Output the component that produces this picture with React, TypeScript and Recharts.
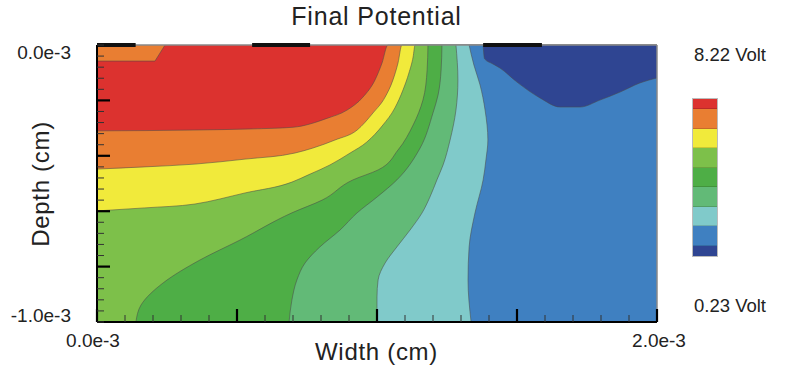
import { Area, AreaChart, ReferenceLine, XAxis, YAxis } from 'recharts';

// plot area of the reference: x 97..657, y 45..322 (units of 1e-3 cm)
const W = 800;
const H = 369;
const margin = { top: 45, right: 143, bottom: 47, left: 97 };
// the axis layer keeps 1px for each visible axis
const axisMargin = { top: 45, right: 143, bottom: 46, left: 96 };

const levelColors = ['#dc322f', '#e97e32', '#f1ea3b', '#7dc04a', '#4eae46', '#62ba77', '#80caca', '#3f80c1', '#2f4592'];
const levelLabels = ['8.22 Volt', '0.23 Volt'];

const xTicks = [0, 0.1, 0.2, 0.3, 0.4, 0.5, 0.6, 0.7, 0.8, 0.9, 1, 1.1, 1.2, 1.3, 1.4, 1.5, 1.6, 1.7, 1.8, 1.9, 2];
const yTicks = [
  0, -0.04, -0.08, -0.12, -0.16, -0.2, -0.24, -0.28, -0.32, -0.36, -0.4, -0.44, -0.48, -0.52, -0.56, -0.6, -0.64,
  -0.68, -0.72, -0.76, -0.8, -0.84, -0.88, -0.92, -0.96, -1,
];
const xTickLabels = [
  { v: 0, text: '0.0e-3' },
  { v: 2, text: '2.0e-3' },
];
const yTickLabels = [
  { v: 0, text: '0.0e-3' },
  { v: -1, text: '-1.0e-3' },
];

// electrodes on the surface (width ranges)
const electrodes = [
  [0, 0.138],
  [0.554, 0.761],
  [1.379, 1.589],
];

// contour lines given as depth over width (filled downwards / upwards)
const fullPlot = [
  { x: 0, y: 0 },
  { x: 2, y: 0 },
];
const orangeCorner = [
  { x: 0, y: -0.058 },
  { x: 0.207, y: -0.058 },
  { x: 0.243, y: 0 },
];
const redOrange = [
  { x: 0, y: -0.31 },
  { x: 0.35, y: -0.307 },
  { x: 0.55, y: -0.303 },
  { x: 0.7, y: -0.297 },
  { x: 0.821, y: -0.265 },
  { x: 0.893, y: -0.235 },
  { x: 0.95, y: -0.188 },
  { x: 0.993, y: -0.126 },
  { x: 1.018, y: -0.065 },
  { x: 1.039, y: 0 },
  { x: 2, y: 0 },
];
const orangeYellow = [
  { x: 0, y: -0.448 },
  { x: 0.171, y: -0.44 },
  { x: 0.35, y: -0.43 },
  { x: 0.529, y: -0.412 },
  { x: 0.707, y: -0.39 },
  { x: 0.771, y: -0.372 },
  { x: 0.85, y: -0.343 },
  { x: 0.929, y: -0.307 },
  { x: 0.986, y: -0.245 },
  { x: 1.029, y: -0.188 },
  { x: 1.057, y: -0.126 },
  { x: 1.075, y: -0.065 },
  { x: 1.089, y: 0 },
  { x: 2, y: 0 },
];
const yellowLightGreen = [
  { x: 0, y: -0.599 },
  { x: 0.171, y: -0.588 },
  { x: 0.35, y: -0.574 },
  { x: 0.529, y: -0.534 },
  { x: 0.696, y: -0.495 },
  { x: 0.761, y: -0.466 },
  { x: 0.832, y: -0.433 },
  { x: 0.904, y: -0.39 },
  { x: 0.964, y: -0.35 },
  { x: 1.021, y: -0.289 },
  { x: 1.064, y: -0.227 },
  { x: 1.093, y: -0.162 },
  { x: 1.114, y: -0.101 },
  { x: 1.129, y: -0.043 },
  { x: 1.136, y: 0 },
  { x: 2, y: 0 },
];

// contour lines given as width over depth (filled to the right)
const lightGreenGreen = [
  { d: -1, x: 0.139 },
  { d: -0.939, x: 0.157 },
  { d: -0.859, x: 0.236 },
  { d: -0.776, x: 0.368 },
  { d: -0.704, x: 0.511 },
  { d: -0.606, x: 0.696 },
  { d: -0.56, x: 0.804 },
  { d: -0.487, x: 0.914 },
  { d: -0.451, x: 1.004 },
  { d: -0.379, x: 1.075 },
  { d: -0.289, x: 1.129 },
  { d: -0.199, x: 1.164 },
  { d: -0.09, x: 1.179 },
  { d: 0, x: 1.182 },
];
const greenMidGreen = [
  { d: -1, x: 0.686 },
  { d: -0.921, x: 0.696 },
  { d: -0.848, x: 0.714 },
  { d: -0.787, x: 0.743 },
  { d: -0.729, x: 0.796 },
  { d: -0.668, x: 0.868 },
  { d: -0.606, x: 0.929 },
  { d: -0.549, x: 1.0 },
  { d: -0.487, x: 1.071 },
  { d: -0.372, x: 1.154 },
  { d: -0.245, x: 1.2 },
  { d: -0.181, x: 1.218 },
  { d: -0.09, x: 1.229 },
  { d: 0, x: 1.232 },
];
const midGreenCyan = [
  { d: -1, x: 1.0 },
  { d: -0.91, x: 1.0 },
  { d: -0.848, x: 1.004 },
  { d: -0.787, x: 1.029 },
  { d: -0.729, x: 1.071 },
  { d: -0.668, x: 1.118 },
  { d: -0.606, x: 1.161 },
  { d: -0.549, x: 1.189 },
  { d: -0.487, x: 1.214 },
  { d: -0.433, x: 1.236 },
  { d: -0.343, x: 1.261 },
  { d: -0.235, x: 1.282 },
  { d: -0.126, x: 1.289 },
  { d: 0, x: 1.282 },
];
const cyanBlue = [
  { d: -1, x: 1.336 },
  { d: -0.848, x: 1.325 },
  { d: -0.729, x: 1.329 },
  { d: -0.606, x: 1.35 },
  { d: -0.487, x: 1.379 },
  { d: -0.415, x: 1.389 },
  { d: -0.343, x: 1.396 },
  { d: -0.235, x: 1.386 },
  { d: -0.144, x: 1.368 },
  { d: -0.072, x: 1.346 },
  { d: 0, x: 1.329 },
];

// dark blue pocket under the right electrode (filled up to the surface)
const darkBluePocket = [
  { x: 1.379, y: 0 },
  { x: 1.384, y: -0.05 },
  { x: 1.411, y: -0.067 },
  { x: 1.439, y: -0.083 },
  { x: 1.5, y: -0.134 },
  { x: 1.582, y: -0.191 },
  { x: 1.654, y: -0.224 },
  { x: 1.725, y: -0.224 },
  { x: 1.796, y: -0.199 },
  { x: 1.868, y: -0.17 },
  { x: 1.939, y: -0.137 },
  { x: 2, y: -0.119 },
];

const font = '"Liberation Sans", Arial, Helvetica, sans-serif';
const line = { stroke: '#4a4a4a', strokeWidth: 0.9, strokeOpacity: 0.6 };
const layer = { position: 'absolute' as const, left: 0, top: 0 };

function near(a: number, b: number) {
  return Math.abs(a - b) < 1e-6;
}

function BottomTick(props: any) {
  const { x, y, payload } = props;
  const v = payload.value as number;
  const major = near(v * 2, Math.round(v * 2));
  const label = xTickLabels.find((t) => near(t.v, v));
  return (
    <g>
      <line x1={x} x2={x} y1={y} y2={y - (major ? 13 : 7)} stroke={major ? '#000' : '#333'} strokeWidth={major ? 2.2 : 1} />
      {label && (
        <text x={x + (v === 0 ? -4 : 2)} y={y + 25} textAnchor="middle" fontFamily={font} fontSize={19} fill="#222">
          {label.text}
        </text>
      )}
    </g>
  );
}

function LeftTick(props: any) {
  const { x, y, payload } = props;
  const v = payload.value as number;
  const major = near(v * 5, Math.round(v * 5)) && !near(v, 0) && !near(v, -1);
  const label = yTickLabels.find((t) => near(t.v, v));
  return (
    <g>
      <line x1={x} x2={x + (major ? 13 : 7)} y1={y} y2={y} stroke={major ? '#000' : '#333'} strokeWidth={major ? 2.2 : 1} />
      {label && (
        <text x={x - 26} y={near(v, 0) ? y + 14 : y} textAnchor="end" fontFamily={font} fontSize={19} fill="#222">
          {label.text}
        </text>
      )}
    </g>
  );
}

export default function App() {
  return (
    <div style={{ position: 'absolute', left: 0, top: 0, width: W, height: H, background: '#fff', fontFamily: font, color: '#222' }}>
      {/* bands that are functions of width */}
      <div style={layer}>
        <AreaChart width={W} height={H} margin={margin}>
          <XAxis type="number" dataKey="x" domain={[0, 2]} hide />
          <YAxis type="number" domain={[-1, 0]} hide />
          <Area data={fullPlot} dataKey="y" type="linear" baseValue="dataMin" fill={levelColors[0]} fillOpacity={1} stroke="none" isAnimationActive={false} />
          <Area data={orangeCorner} dataKey="y" type="linear" baseValue={0} fill={levelColors[1]} fillOpacity={1} {...line} isAnimationActive={false} />
          <Area data={redOrange} dataKey="y" type="monotone" baseValue="dataMin" fill={levelColors[1]} fillOpacity={1} {...line} isAnimationActive={false} />
          <Area data={orangeYellow} dataKey="y" type="monotone" baseValue="dataMin" fill={levelColors[2]} fillOpacity={1} {...line} isAnimationActive={false} />
          <Area data={yellowLightGreen} dataKey="y" type="monotone" baseValue="dataMin" fill={levelColors[3]} fillOpacity={1} {...line} isAnimationActive={false} />
        </AreaChart>
      </div>

      {/* bands that are functions of depth */}
      <div style={layer}>
        <AreaChart width={W} height={H} margin={margin} layout="vertical">
          <XAxis type="number" domain={[0, 2]} hide />
          <YAxis type="number" dataKey="d" domain={[-1, 0]} reversed hide />
          <Area data={lightGreenGreen} dataKey="x" type="monotone" baseValue="dataMax" fill={levelColors[4]} fillOpacity={1} {...line} isAnimationActive={false} />
          <Area data={greenMidGreen} dataKey="x" type="monotone" baseValue="dataMax" fill={levelColors[5]} fillOpacity={1} {...line} isAnimationActive={false} />
          <Area data={midGreenCyan} dataKey="x" type="monotone" baseValue="dataMax" fill={levelColors[6]} fillOpacity={1} {...line} isAnimationActive={false} />
          <Area data={cyanBlue} dataKey="x" type="monotone" baseValue="dataMax" fill={levelColors[7]} fillOpacity={1} {...line} isAnimationActive={false} />
        </AreaChart>
      </div>

      {/* pocket, frame, electrodes and axes */}
      <div style={layer}>
        <AreaChart width={W} height={H} margin={axisMargin}>
          <Area data={darkBluePocket} dataKey="y" type="monotone" baseValue={0} fill={levelColors[8]} fillOpacity={1} {...line} isAnimationActive={false} />
          <ReferenceLine y={0} stroke="#888" strokeWidth={1.5} />
          <ReferenceLine x={2} stroke="#888" strokeWidth={1.5} />
          {electrodes.map(([a, b]) => (
            <ReferenceLine key={a} segment={[{ x: a, y: 0 }, { x: b, y: 0 }]} stroke="#111" strokeWidth={4} />
          ))}
          <XAxis
            type="number"
            dataKey="x"
            domain={[0, 2]}
            ticks={xTicks}
            interval={0}
            height={1}
            tickSize={0}
            tickMargin={0}
            tickLine={false}
            axisLine={{ stroke: '#000', strokeWidth: 2 }}
            tick={<BottomTick />}
          />
          <YAxis
            type="number"
            domain={[-1, 0]}
            ticks={yTicks}
            interval={0}
            width={1}
            tickSize={0}
            tickMargin={0}
            tickLine={false}
            axisLine={{ stroke: '#000', strokeWidth: 2 }}
            tick={<LeftTick />}
          />
        </AreaChart>
      </div>

      <div style={{ position: 'absolute', left: 0, width: 753, top: 2, textAlign: 'center', fontSize: 25, letterSpacing: 0.8 }}>Final Potential</div>
      <div style={{ position: 'absolute', left: 0, width: 753, top: 338, textAlign: 'center', fontSize: 24, letterSpacing: 0.7 }}>Width (cm)</div>
      <div
        style={{
          position: 'absolute',
          left: 41,
          top: 184,
          transform: 'translate(-50%, -50%) rotate(-90deg)',
          whiteSpace: 'nowrap',
          fontSize: 24,
          letterSpacing: 0.7,
        }}
      >
        Depth (cm)
      </div>

      {/* colour scale */}
      <div style={{ position: 'absolute', left: 670, width: 120, top: 44, textAlign: 'center', fontSize: 18.5 }}>{levelLabels[0]}</div>
      <div style={{ position: 'absolute', left: 670, width: 120, top: 295, textAlign: 'center', fontSize: 18.5 }}>{levelLabels[1]}</div>
      <div style={{ position: 'absolute', left: 692, top: 98, width: 24, border: '0.5px solid #bbb' }}>
        {levelColors.map((c, i) => (
          <div
            key={c}
            style={{
              height: i === 0 || i === levelColors.length - 1 ? 10 : 19.5,
              background: c,
              borderBottom: i === levelColors.length - 1 ? 'none' : '1px solid rgba(0,0,0,0.15)',
              boxSizing: 'border-box',
            }}
          />
        ))}
      </div>
    </div>
  );
}
